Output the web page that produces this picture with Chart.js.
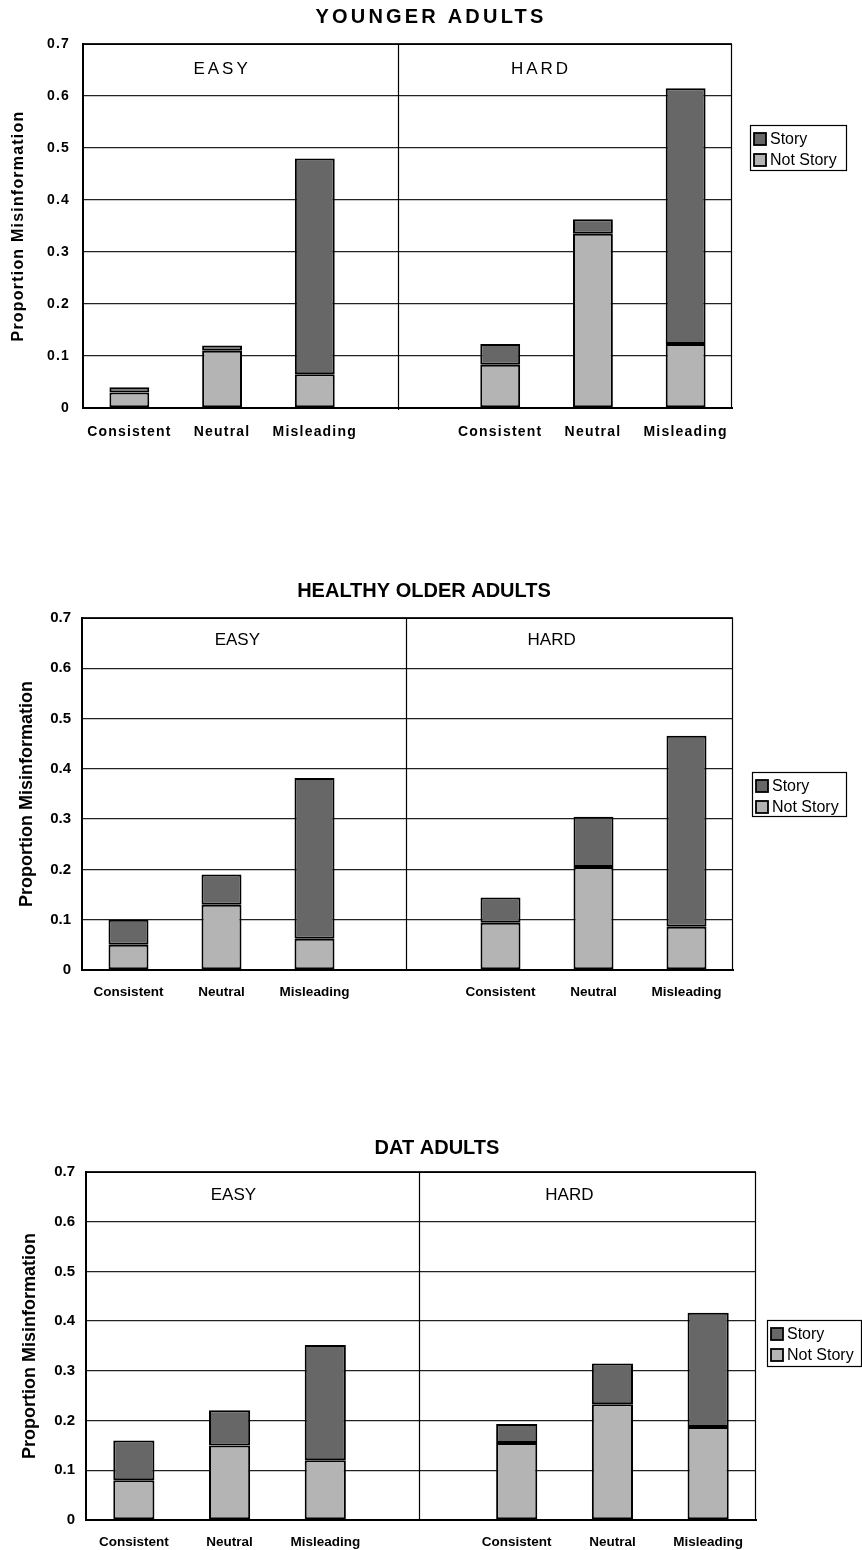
<!DOCTYPE html>
<html>
<head>
<meta charset="utf-8">
<title>Proportion Misinformation</title>
<script src="https://cdn.jsdelivr.net/npm/chart.js@4.4.1/dist/chart.umd.min.js"></script>
<style>
  html, body { margin: 0; padding: 0; background: #fff; }
  body { width: 862px; height: 1550px; position: relative; overflow: hidden; }
  .panel { position: absolute; left: 0; width: 862px; }
</style>
</head>
<body>
<div class="panel" style="top:0;height:455px"><canvas id="youngChart"></canvas></div>
<div class="panel" style="top:575px;height:430px"><canvas id="olderChart"></canvas></div>
<div class="panel" style="top:1125px;height:425px"><canvas id="datChart"></canvas></div>

<script>
// categories (index 3 is the empty gap between EASY and HARD)
const categories = ["Consistent", "Neutral", "Misleading", "", "Consistent", "Neutral", "Misleading"];
const conditionLabels = ["EASY", "HARD"];
const groupTitles = ["YOUNGER ADULTS", "HEALTHY OLDER ADULTS", "DAT ADULTS"];
const seriesNames = ["Story", "Not Story"];
const yTickValues = [0, 0.1, 0.2, 0.3, 0.4, 0.5, 0.6, 0.7];
const yTickLabels = ["0", "0.1", "0.2", "0.3", "0.4", "0.5", "0.6", "0.7"];
const yAxisTitle = "Proportion Misinformation";

// values
const youngNotStory = [0.03, 0.11, 0.065, null, 0.083, 0.335, 0.123];
const youngStory    = [0.01, 0.01, 0.415, null, 0.04, 0.028, 0.492];
const olderNotStory = [0.05, 0.13, 0.062, null, 0.094, 0.205, 0.086];
const olderStory    = [0.05, 0.06, 0.32, null, 0.05, 0.10, 0.38];
const datNotStory   = [0.08, 0.15, 0.12, null, 0.155, 0.233, 0.187];
const datStory      = [0.08, 0.071, 0.232, null, 0.038, 0.082, 0.23];

const FONT = "'Liberation Sans', Arial, Helvetica, sans-serif";
const storyColor = "#676767";
const notStoryColor = "#b4b4b4";

Chart.defaults.font.family = FONT;
Chart.defaults.color = "#000";

// draws frame, EASY/HARD divider, titles and the boxed legend
const panelDecor = {
    id: "panelDecor",
    beforeLayout(chart, args, opts) {
        chart.ctx.letterSpacing = opts.spacing;
    },
    beforeDraw(chart, args, opts) {
        chart.ctx.letterSpacing = opts.spacing;
    },
    afterDraw(chart, args, opts) {
        const ctx = chart.ctx;
        const a = chart.chartArea;
        const x = chart.scales.x;
        ctx.save();

        // top and right edges of plot frame
        ctx.strokeStyle = "#000";
        ctx.lineWidth = 1.2;
        ctx.beginPath();
        ctx.moveTo(a.left, a.top + 0.5);
        ctx.lineTo(a.right - 0.5, a.top + 0.5);
        ctx.lineTo(a.right - 0.5, a.bottom);
        ctx.stroke();

        // EASY | HARD divider
        const dx = Math.round(x.getPixelForValue(opts.dividerAt)) + 0.5;
        ctx.beginPath();
        ctx.moveTo(dx, a.top);
        ctx.lineTo(dx, a.bottom + opts.dividerDrop);
        ctx.stroke();

        // condition labels
        ctx.fillStyle = "#000";
        ctx.textAlign = "center";
        ctx.textBaseline = "middle";
        ctx.font = "17px " + FONT;
        ctx.letterSpacing = opts.labelSpacing;
        ctx.fillText(conditionLabels[0], x.getPixelForValue(opts.easyAt), a.top + opts.labelDy);
        ctx.fillText(conditionLabels[1], x.getPixelForValue(opts.hardAt), a.top + opts.labelDy);

        // group title
        ctx.font = "bold 20px " + FONT;
        ctx.letterSpacing = opts.titleSpacing;
        ctx.fillText(opts.title, opts.titleX, opts.titleY);

        // legend
        const L = opts.legend;
        ctx.letterSpacing = "0px";
        ctx.lineWidth = 1.2;
        ctx.strokeRect(L.x + 0.5, L.y + 0.5, L.w, L.h);
        const items = [chart.data.datasets[1], chart.data.datasets[0]];
        ctx.font = "16px " + FONT;
        ctx.textAlign = "left";
        items.forEach((ds, i) => {
            const cy = L.y + 14 + i * 21;
            ctx.fillStyle = ds.backgroundColor;
            ctx.fillRect(L.x + 4, cy - 6, 12, 12);
            ctx.strokeStyle = "#000";
            ctx.lineWidth = 1.8;
            ctx.strokeRect(L.x + 4, cy - 6, 12, 12);
            ctx.fillStyle = "#000";
            ctx.fillText(ds.label, L.x + 20, cy + 1);
        });
        ctx.restore();
    }
};

function makePanel(canvasId, title, storyData, notStoryData, cfg) {
    const ctx = document.getElementById(canvasId).getContext("2d");
    return new Chart(ctx, {
        type: "bar",
        data: {
            labels: categories,
            datasets: [{
                label: seriesNames[1],
                data: notStoryData,
                backgroundColor: notStoryColor,
                borderColor: "#000",
                borderWidth: 2,
                borderSkipped: false
            }, {
                label: seriesNames[0],
                data: storyData,
                backgroundColor: storyColor,
                borderColor: "#000",
                borderWidth: 2,
                borderSkipped: false
            }]
        },
        options: {
            responsive: true,
            maintainAspectRatio: false,
            animation: false,
            devicePixelRatio: 1,
            layout: { padding: { top: cfg.top, right: cfg.right, left: 0, bottom: 0 } },
            datasets: { bar: { barPercentage: 0.43, categoryPercentage: 1 } },
            plugins: {
                legend: { display: false },
                tooltip: { enabled: false },
                panelDecor: Object.assign({ title: title }, cfg.decor)
            },
            scales: {
                x: {
                    stacked: true,
                    grid: { display: false },
                    border: { color: "#000", width: 2 },
                    ticks: {
                        color: "#000",
                        font: { size: cfg.xFont, weight: "bold" },
                        padding: cfg.xPad,
                        maxRotation: 0,
                        minRotation: 0,
                        autoSkip: false
                    },
                    afterFit(s) {
                        s.height = cfg.xHeight;
                        s.paddingLeft = 0;
                        s.paddingRight = 0;
                    }
                },
                y: {
                    stacked: true,
                    min: 0,
                    max: 0.7,
                    afterBuildTicks(s) {
                        s.ticks = yTickValues.map(v => ({ value: v }));
                    },
                    grid: { color: "#222", lineWidth: 1.3, drawTicks: false },
                    border: { color: "#000", width: 2 },
                    ticks: {
                        color: "#000",
                        font: { size: cfg.yFont, weight: "bold" },
                        padding: cfg.yPad,
                        callback: (v, i) => yTickLabels[i]
                    },
                    title: {
                        display: true,
                        text: yAxisTitle,
                        color: "#000",
                        font: { size: cfg.titleFont, weight: "bold" },
                        padding: { top: cfg.titlePad, bottom: 0 }
                    },
                    afterFit(s) {
                        s.width = cfg.left;
                        s.paddingTop = 0;
                        s.paddingBottom = 0;
                    }
                }
            }
        },
        plugins: [panelDecor]
    });
}

makePanel("youngChart", groupTitles[0], youngStory, youngNotStory, {
    top: 44, right: 130, left: 83, xHeight: 47,
    xFont: 14, xPad: 8, yFont: 14, yPad: 13, titleFont: 16, titlePad: 9,
    decor: {
        spacing: "1.2px", titleSpacing: "3.2px", labelSpacing: "3px",
        titleX: 431, titleY: 17, easyAt: 1.0, hardAt: 4.44, labelDy: 25,
        dividerAt: 2.9, dividerDrop: 2,
        legend: { x: 750, y: 125, w: 96, h: 45 }
    }
});

makePanel("olderChart", groupTitles[1], olderStory, olderNotStory, {
    top: 43, right: 129, left: 82, xHeight: 35,
    xFont: 13.5, xPad: 6.5, yFont: 15, yPad: 11, titleFont: 18, titlePad: 16,
    decor: {
        spacing: "0px", titleSpacing: "0px", labelSpacing: "0px",
        titleX: 424, titleY: 16, easyAt: 1.17, hardAt: 4.55, labelDy: 22,
        dividerAt: 2.98, dividerDrop: 0,
        legend: { x: 752, y: 197, w: 94, h: 44 }
    }
});

makePanel("datChart", groupTitles[2], datStory, datNotStory, {
    top: 47, right: 106, left: 86, xHeight: 30,
    xFont: 13.5, xPad: 6, yFont: 15, yPad: 11, titleFont: 18, titlePad: 19,
    decor: {
        spacing: "0px", titleSpacing: "0px", labelSpacing: "0px",
        titleX: 437, titleY: 23, easyAt: 1.04, hardAt: 4.55, labelDy: 23,
        dividerAt: 2.98, dividerDrop: 0,
        legend: { x: 767, y: 195, w: 94, h: 46 }
    }
});
</script>
</body>
</html>
